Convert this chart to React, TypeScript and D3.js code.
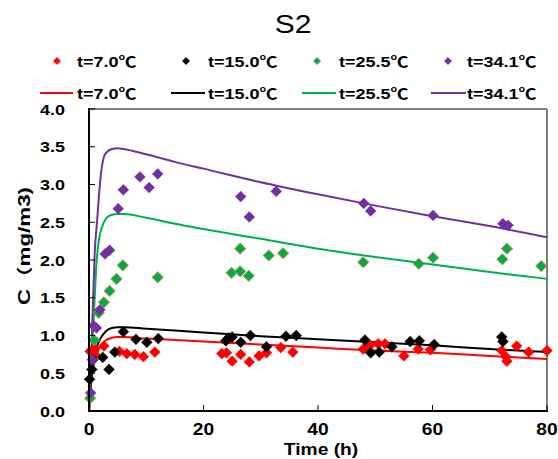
import React from "react";
import * as d3 from "d3";

const seriesNames = ["t=7.0", "t=15.0", "t=25.5", "t=34.1"];
const unit = "℃";
const markerColors = ["#ff0000", "#000000", "#00a84f", "#7030a0"];
const markerStrokes = ["#ff0000", "#000000", "#8e9a3c", "#7030a0"];
const lineColors = ["#ff0000", "#000000", "#00b050", "#7030a0"];

// measured points [time h, C mg/m3]
const obs7: [number, number][] = [
  [0.2, 0.79], [0.9, 0.83], [1.0, 0.75], [2.6, 0.86], [5.3, 0.79], [6.6, 0.76], [8.0, 0.75], [9.5, 0.72], [11.5, 0.78],
  [23.2, 0.76], [24.0, 0.77], [25.0, 0.66], [26.5, 0.75], [28.0, 0.65], [29.7, 0.73], [31.0, 0.77], [33.5, 0.84], [35.6, 0.78],
  [47.9, 0.82], [49.1, 0.87], [50.5, 0.89], [51.7, 0.89], [55.0, 0.73], [57.5, 0.82], [59.6, 0.81],
  [72.1, 0.80], [72.8, 0.72], [73.0, 0.66], [74.7, 0.86], [76.8, 0.78], [80.0, 0.80],
];
const obs15: [number, number][] = [
  [0.1, 0.42], [0.5, 0.55], [0.7, 0.68], [2.4, 0.71], [3.5, 0.55], [4.5, 0.78], [6.0, 1.05], [8.2, 0.95], [10.1, 0.91], [12.1, 0.96],
  [23.9, 0.93], [24.4, 0.97], [25.0, 0.98], [26.5, 0.91], [28.2, 1.0], [31.0, 0.85], [34.4, 0.99], [36.2, 1.0],
  [48.2, 0.94], [49.2, 0.77], [50.7, 0.78], [52.9, 0.85], [56.1, 0.92], [57.7, 0.93], [60.3, 0.88],
  [72.1, 0.98], [72.3, 0.92],
];
const obs25: [number, number][] = [
  [0.2, 0.17], [0.9, 0.94], [1.7, 1.30], [2.6, 1.44], [3.6, 1.59], [4.8, 1.75], [5.9, 1.93], [12.0, 1.77],
  [24.9, 1.83], [26.4, 1.85], [27.9, 1.79], [26.4, 2.15], [31.4, 2.06], [33.9, 2.09],
  [47.9, 1.97], [57.6, 1.95], [60.1, 2.03], [72.2, 2.01], [73.0, 2.15], [79.0, 1.92],
];
const obs34: [number, number][] = [
  [0.3, 0.24], [0.6, 0.68], [0.8, 1.13], [1.3, 1.10], [1.9, 1.34], [2.8, 2.08], [3.6, 2.13],
  [5.1, 2.68], [6.0, 2.93], [8.9, 3.10], [10.5, 2.96], [12.0, 3.14],
  [26.5, 2.84], [28.0, 2.57], [32.7, 2.91], [48.0, 2.75], [49.2, 2.65], [60.1, 2.59], [72.3, 2.48], [73.2, 2.46],
];

// model curves [time h, C mg/m3]
const fit7: [number, number][] = [
  [0, 0], [0.3, 0.3], [0.6, 0.52], [1, 0.68], [1.5, 0.78], [2, 0.86], [3, 0.94], [4, 0.97], [5, 0.98], [6, 0.98],
  [10, 0.96], [20, 0.92], [30, 0.88], [40, 0.84], [50, 0.8], [60, 0.77], [70, 0.73], [80, 0.69],
];
const fit15: [number, number][] = [
  [0, 0], [0.3, 0.35], [0.6, 0.58], [1, 0.75], [1.5, 0.88], [2, 0.96], [3, 1.06], [4, 1.1], [5, 1.11], [6, 1.11],
  [10, 1.09], [20, 1.04], [30, 0.99], [40, 0.95], [50, 0.91], [60, 0.87], [70, 0.82], [80, 0.78],
];
const fit25: [number, number][] = [
  [0, 0], [0.3, 0.5], [0.7, 1.07], [1.0, 1.5], [1.3, 1.95], [1.7, 2.25], [2.2, 2.42], [3, 2.55], [4, 2.6], [5, 2.61], [6, 2.61],
  [10, 2.56], [15, 2.48], [20, 2.41], [30, 2.28], [40, 2.15], [50, 2.04], [60, 1.94], [70, 1.84], [80, 1.75],
];
const fit34: [number, number][] = [
  [0, 0], [0.3, 0.5], [0.6, 1.2], [1, 2.1], [1.4, 2.5], [2, 3.08], [2.8, 3.4], [4, 3.47], [5, 3.48], [6, 3.47],
  [10, 3.4], [15, 3.3], [20, 3.21], [30, 3.03], [40, 2.87], [50, 2.72], [60, 2.58], [70, 2.45], [80, 2.3],
];

const xTicks = [0, 20, 40, 60, 80];
const yTicks = [0, 0.5, 1, 1.5, 2, 2.5, 3, 3.5, 4];

const observed = [obs7, obs15, obs25, obs34];
const fitted = [fit7, fit15, fit25, fit34];

const W = 558;
const H = 459;
const L = 89, R = 547, T = 109, B = 411;
const FONT = "'Liberation Sans', Arial, sans-serif";
const CJK = "'Noto Sans CJK SC', sans-serif";
const SX = 1.2;

function Txt(props: {
  x: number; y: number; size: number; bold?: boolean; anchor?: "start" | "middle" | "end"; children: React.ReactNode;
}) {
  const { x, y, size, bold, anchor = "start", children } = props;
  return (
    <text
      transform={`translate(${x},${y}) scale(${SX},1)`}
      textAnchor={anchor}
      fontSize={size}
      fontWeight={bold ? "bold" : "normal"}
      fill="#000"
    >
      {children}
    </text>
  );
}

export default function App() {
  const x = d3.scaleLinear().domain([0, 80]).range([L, R]);
  const y = d3.scaleLinear().domain([0, 4]).range([B, T]);
  const line = d3
    .line<[number, number]>()
    .x((d) => x(d[0]))
    .y((d) => y(d[1]))
    .curve(d3.curveMonotoneX);
  const bigSq = d3.symbol().type(d3.symbolSquare).size(58)()!;
  const smallSq = d3.symbol().type(d3.symbolSquare).size(26)()!;

  const legMarkX = [57, 186, 317, 448];
  const legTextX = [77, 208, 339, 467];
  const legLineX = [[40, 73], [171, 205], [302, 336], [431, 466]];

  return (
    <svg width={W} height={H} style={{ position: "absolute", left: 0, top: 0, background: "#fff" }} fontFamily={FONT}>
      <rect x={0} y={0} width={W} height={H} fill="#fff" />
      <Txt x={293} y={33} size={25} anchor="middle">S2</Txt>

      {/* legend */}
      {seriesNames.map((n, i) => (
        <g key={"lm" + i}>
          <path d={smallSq} transform={`translate(${legMarkX[i]},61) rotate(45)`} fill={markerColors[i]} stroke={markerStrokes[i]} strokeWidth={0.6} />
          <Txt x={legTextX[i]} y={67} size={15} bold>
            {n}
            <tspan fontFamily={CJK}>{unit}</tspan>
          </Txt>
          <line x1={legLineX[i][0]} x2={legLineX[i][1]} y1={93} y2={93} stroke={lineColors[i]} strokeWidth={2} />
          <Txt x={legTextX[i]} y={99} size={15} bold>
            {n}
            <tspan fontFamily={CJK}>{unit}</tspan>
          </Txt>
        </g>
      ))}

      {/* frame */}
      <line x1={L} x2={R} y1={T} y2={T} stroke="#7f7f7f" strokeWidth={2} />
      <line x1={R} x2={R} y1={T} y2={B} stroke="#7f7f7f" strokeWidth={2} />

      {/* fitted lines */}
      {fitted.map((f, i) => (
        <path key={"f" + i} d={line(f) || ""} fill="none" stroke={lineColors[i]} strokeWidth={2} />
      ))}

      {/* observed markers */}
      {observed.map((s, i) => (
        <g key={"o" + i}>
          {s.map((d, j) => (
            <path
              key={j}
              d={bigSq}
              transform={`translate(${x(d[0])},${y(d[1])}) rotate(45)`}
              fill={markerColors[i]}
              stroke={markerStrokes[i]}
              strokeWidth={i === 2 ? 1 : 0.5}
            />
          ))}
        </g>
      ))}

      {/* axes */}
      <line x1={L} x2={L} y1={T - 1} y2={B + 1} stroke="#000" strokeWidth={2} />
      <line x1={L - 1} x2={R + 1} y1={B} y2={B} stroke="#000" strokeWidth={2} />
      {yTicks.map((t) => (
        <g key={"yt" + t}>
          <line x1={L} x2={L + 6} y1={y(t)} y2={y(t)} stroke="#000" strokeWidth={1} />
          <Txt x={65} y={y(t) + 5.5} size={15} bold anchor="end">{t.toFixed(1)}</Txt>
        </g>
      ))}
      {xTicks.map((t) => (
        <g key={"xt" + t}>
          <line x1={x(t)} x2={x(t)} y1={B} y2={B - 6} stroke="#000" strokeWidth={1} />
          <Txt x={x(t)} y={435} size={16} bold anchor="middle">{t}</Txt>
        </g>
      ))}
      <Txt x={321} y={455} size={16} bold anchor="middle">Time (h)</Txt>
      <text
        transform={`translate(30,246) rotate(-90)`}
        textAnchor="middle"
        fontSize={16}
        fontWeight="bold"
        textLength={118}
        lengthAdjust="spacingAndGlyphs"
      >
        C<tspan fontFamily={CJK}>（</tspan>mg/m3)
      </text>
    </svg>
  );
}
